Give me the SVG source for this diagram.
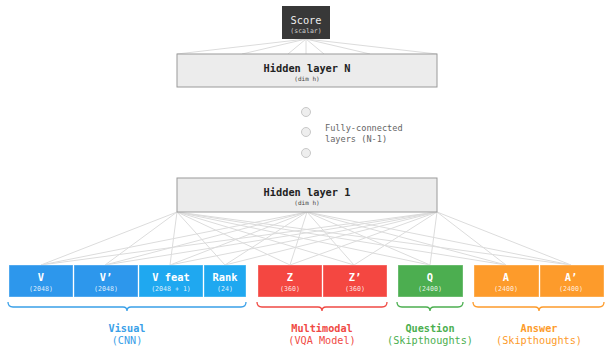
<svg xmlns="http://www.w3.org/2000/svg" width="605" height="347" viewBox="0 0 605 347">
<style>
text{font-family:"DejaVu Sans Mono","Liberation Mono",monospace;text-anchor:middle}
.conn line{stroke:#dcdcdc;stroke-width:1}
.hid{fill:#ececec;stroke:#9a9a9a;stroke-width:1}
.ht{font-size:10.3px;font-weight:bold;fill:#222}
.hs{font-size:6px;fill:#444}
.bx{stroke:#fff;stroke-opacity:0.35;stroke-width:1}
.bt{font-size:10.4px;font-weight:bold;fill:#fff}
.bs{font-size:6.6px;fill:#fff;fill-opacity:0.85}
.dot{fill:#eee;stroke:#c8c8c8;stroke-width:1}
.brace{fill:none;stroke-width:1.3}
.gl{font-size:10.2px;font-weight:bold}
.gs{font-size:10.2px}
</style>
<rect width="605" height="347" fill="#fff"/>
<g id="connectors" class="conn">
<line x1="306" y1="39" x2="177" y2="54"/>
<line x1="306" y1="39" x2="242" y2="54"/>
<line x1="306" y1="39" x2="288" y2="54"/>
<line x1="306" y1="39" x2="306" y2="54"/>
<line x1="306" y1="39" x2="324" y2="54"/>
<line x1="306" y1="39" x2="370" y2="54"/>
<line x1="306" y1="39" x2="437" y2="54"/>
<line x1="177" y1="212" x2="41" y2="265"/><line x1="177" y1="212" x2="105" y2="265"/><line x1="177" y1="212" x2="170" y2="265"/><line x1="177" y1="212" x2="225" y2="265"/><line x1="177" y1="212" x2="290" y2="265"/><line x1="177" y1="212" x2="354" y2="265"/><line x1="177" y1="212" x2="430" y2="265"/><line x1="177" y1="212" x2="506" y2="265"/><line x1="177" y1="212" x2="571" y2="265"/>
<line x1="307" y1="212" x2="41" y2="265"/><line x1="307" y1="212" x2="105" y2="265"/><line x1="307" y1="212" x2="170" y2="265"/><line x1="307" y1="212" x2="225" y2="265"/><line x1="307" y1="212" x2="290" y2="265"/><line x1="307" y1="212" x2="354" y2="265"/><line x1="307" y1="212" x2="430" y2="265"/><line x1="307" y1="212" x2="506" y2="265"/><line x1="307" y1="212" x2="571" y2="265"/>
<line x1="437" y1="212" x2="41" y2="265"/><line x1="437" y1="212" x2="105" y2="265"/><line x1="437" y1="212" x2="170" y2="265"/><line x1="437" y1="212" x2="225" y2="265"/><line x1="437" y1="212" x2="290" y2="265"/><line x1="437" y1="212" x2="354" y2="265"/><line x1="437" y1="212" x2="430" y2="265"/><line x1="437" y1="212" x2="506" y2="265"/><line x1="437" y1="212" x2="571" y2="265"/>
</g>
<g id="score">
<rect x="282" y="6" width="48" height="33" fill="#383838"/>
<text x="306" y="24" style="font-size:10.3px;fill:#eee">Score</text>
<text x="306" y="33" style="font-size:6.5px;fill:#ccc">(scalar)</text>
</g>
<g id="hiddenN">
<rect class="hid" x="177" y="54" width="260" height="33"/>
<text class="ht" x="307" y="72">Hidden layer N</text>
<text class="hs" x="307" y="81">(dim h)</text>
</g>
<g id="fc">
<circle class="dot" cx="306" cy="112" r="4.5"/>
<circle class="dot" cx="306" cy="132" r="4.5"/>
<circle class="dot" cx="306" cy="153" r="4.5"/>
<text x="325" y="131" style="font-size:8.6px;fill:#666;text-anchor:start">Fully-connected</text>
<text x="325" y="142" style="font-size:8.6px;fill:#666;text-anchor:start">layers (N-1)</text>
</g>
<g id="hidden1">
<rect class="hid" x="177" y="178" width="260" height="34"/>
<text class="ht" x="307" y="196">Hidden layer 1</text>
<text class="hs" x="307" y="205">(dim h)</text>
</g>
<g id="V"><rect class="bx" x="9" y="265" width="64" height="32" fill="#2d97ec"/><text class="bt" x="41" y="281">V</text><text class="bs" x="41" y="291">(2048)</text></g>
<g id="V2"><rect class="bx" x="74" y="265" width="64" height="32" fill="#2d97ec"/><text class="bt" x="106" y="281">V’</text><text class="bs" x="106" y="291">(2048)</text></g>
<g id="Vfeat"><rect class="bx" x="139" y="265" width="64" height="32" fill="#1fa8f0"/><text class="bt" x="171" y="281">V feat</text><text class="bs" x="171" y="291">(2048 + 1)</text></g>
<g id="Rank"><rect class="bx" x="204" y="265" width="42" height="32" fill="#1fa8f0"/><text class="bt" x="225" y="281">Rank</text><text class="bs" x="225" y="291">(24)</text></g>
<g id="Z"><rect class="bx" x="258" y="265" width="64" height="32" fill="#f44741"/><text class="bt" x="290" y="281">Z</text><text class="bs" x="290" y="291">(360)</text></g>
<g id="Z2"><rect class="bx" x="323" y="265" width="64" height="32" fill="#f44741"/><text class="bt" x="355" y="281">Z’</text><text class="bs" x="355" y="291">(360)</text></g>
<g id="Q"><rect class="bx" x="398" y="265" width="65" height="32" fill="#4cae50"/><text class="bt" x="430" y="281">Q</text><text class="bs" x="430" y="291">(2400)</text></g>
<g id="A"><rect class="bx" x="474" y="265" width="65" height="32" fill="#fd9b2b"/><text class="bt" x="506" y="281">A</text><text class="bs" x="506" y="291">(2400)</text></g>
<g id="A2"><rect class="bx" x="540" y="265" width="64" height="32" fill="#fd9b2b"/><text class="bt" x="571" y="281">A’</text><text class="bs" x="571" y="291">(2400)</text></g>
<g id="visual">
<path class="brace" stroke="#3aa0e8" d="M8,302 q0,5 5,5 H123 q4,0 4,4 q0,-4 4,-4 H241 q5,0 5,-5"/>
<text class="gl" x="127" y="332" fill="#3aa0e8">Visual</text>
<text class="gs" x="127" y="344" fill="#3aa0e8">(CNN)</text>
</g>
<g id="multimodal">
<path class="brace" stroke="#f04a44" d="M257,302 q0,5 5,5 H318 q4,0 4,4 q0,-4 4,-4 H382 q5,0 5,-5"/>
<text class="gl" x="322" y="332" fill="#f04a44">Multimodal</text>
<text class="gs" x="322" y="344" fill="#f04a44">(VQA Model)</text>
</g>
<g id="question">
<path class="brace" stroke="#4caf50" d="M397,302 q0,5 5,5 H426 q4,0 4,4 q0,-4 4,-4 H458 q5,0 5,-5"/>
<text class="gl" x="430" y="332" fill="#4caf50">Question</text>
<text class="gs" x="430" y="344" fill="#4caf50">(Skipthoughts)</text>
</g>
<g id="answer">
<path class="brace" stroke="#fd9b2b" d="M473,302 q0,5 5,5 H535 q4,0 4,4 q0,-4 4,-4 H599 q5,0 5,-5"/>
<text class="gl" x="539" y="332" fill="#fd9b2b">Answer</text>
<text class="gs" x="539" y="344" fill="#fd9b2b">(Skipthoughts)</text>
</g>
</svg>
